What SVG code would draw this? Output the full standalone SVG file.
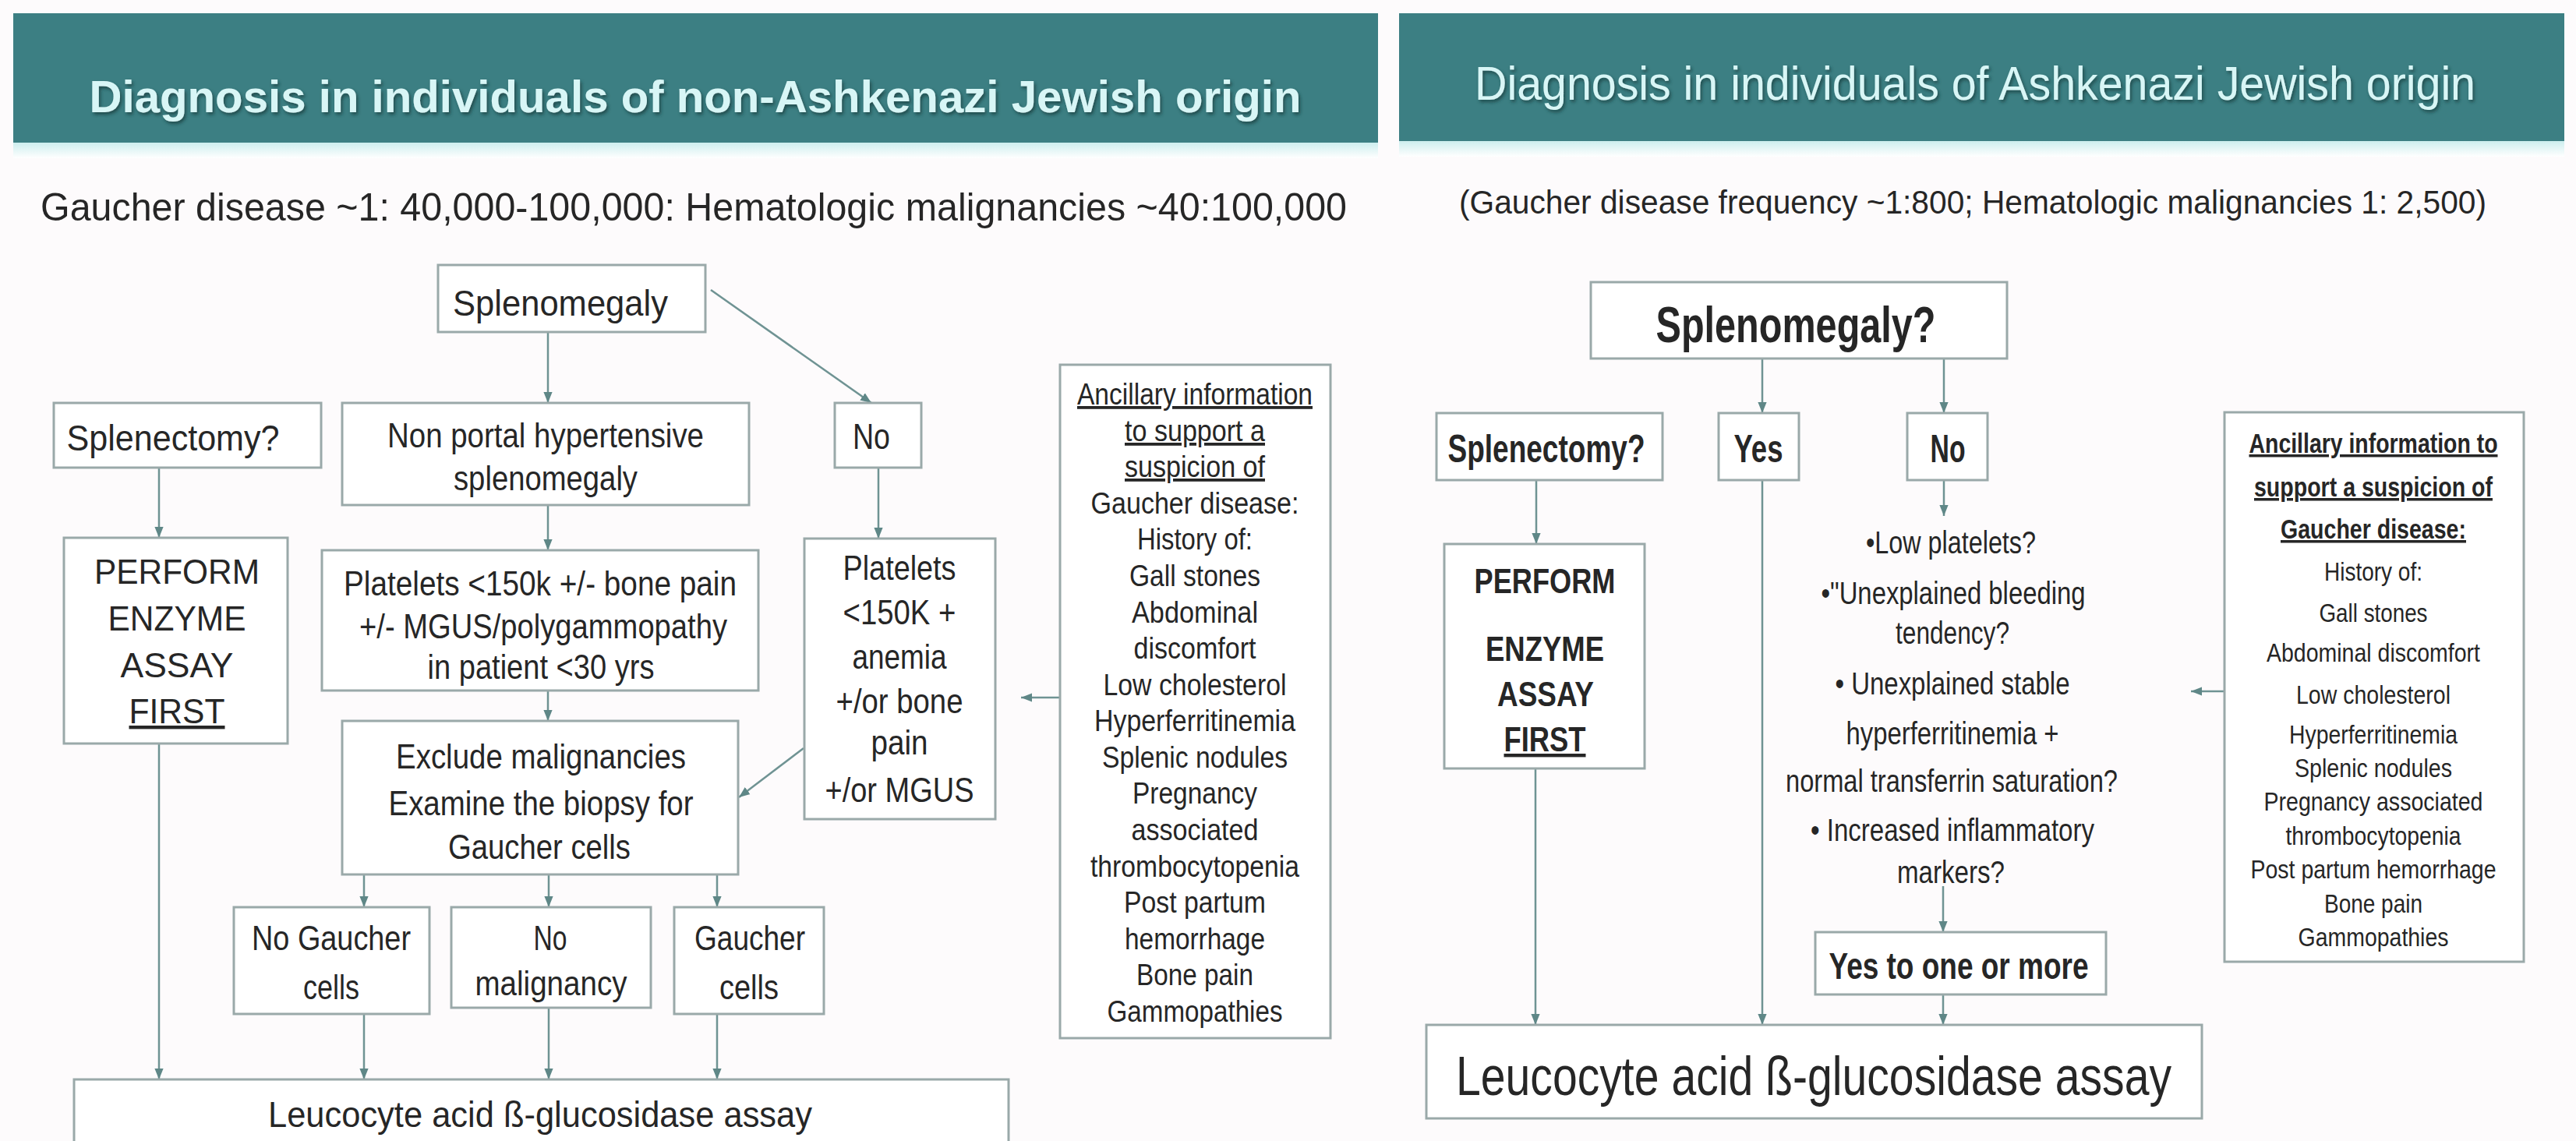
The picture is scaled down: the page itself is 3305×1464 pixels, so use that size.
<svg xmlns="http://www.w3.org/2000/svg" width="3305" height="1464" viewBox="0 0 3305 1464">
<style>
.t{font-family:"Liberation Sans Narrow","Liberation Sans",Arial,sans-serif;fill:#262626;text-anchor:middle}
.b{font-weight:bold}
.h{fill:#d8f6f6;font-weight:bold}
.box{fill:#ffffff;stroke:#9aa9a9;stroke-width:3}
.cn{stroke:#6f9393;stroke-width:2.5;fill:none}
.u{text-decoration:underline}
</style>
<defs>
<marker id="ah" viewBox="0 0 10 10" refX="10" refY="5" markerWidth="14" markerHeight="14" markerUnits="userSpaceOnUse" orient="auto">
<path d="M0,1 L10,5 L0,9 z" fill="#5f8787"/>
</marker>
<linearGradient id="band" x1="0" y1="0" x2="0" y2="1">
<stop offset="0" stop-color="#cdeeee"/>
<stop offset="1" stop-color="#ffffff"/>
</linearGradient>
<filter id="sh" filterUnits="userSpaceOnUse" x="0" y="0" width="3305" height="200">
<feDropShadow dx="2" dy="3" stdDeviation="2" flood-color="#1d3c3e" flood-opacity="0.8"/>
</filter>
</defs>
<rect x="0" y="0" width="3305" height="1464" fill="#fdfbfc"/>

<g id="header-left">
<rect x="17" y="17" width="1751" height="166" fill="#3c7f83"/>
<rect x="17" y="183" width="1751" height="20" fill="url(#band)"/>
<text class="t h" x="892" y="144" font-size="58" textLength="1555" lengthAdjust="spacingAndGlyphs" filter="url(#sh)">Diagnosis in individuals of non-Ashkenazi Jewish origin</text>
</g>
<g id="header-right">
<rect x="1795" y="17" width="1495" height="164" fill="#3c7f83"/>
<rect x="1795" y="181" width="1495" height="20" fill="url(#band)"/>
<text class="t" x="2534" y="128" font-size="62" style="fill:#d8f6f6" textLength="1284" lengthAdjust="spacingAndGlyphs" filter="url(#sh)">Diagnosis in individuals of Ashkenazi Jewish origin</text>
</g>
<g id="subtitle-left">
<text class="t" x="890" y="283" font-size="50" textLength="1676" lengthAdjust="spacingAndGlyphs">Gaucher disease ~1: 40,000-100,000: Hematologic malignancies ~40:100,000</text>
</g>
<g id="subtitle-right">
<text class="t" x="2531" y="274" font-size="43" textLength="1318" lengthAdjust="spacingAndGlyphs">(Gaucher disease frequency ~1:800; Hematologic malignancies 1: 2,500)</text>
</g>

<g id="connectors">
<line class="cn" x1="703" y1="426" x2="703" y2="517" marker-end="url(#ah)"/>
<line class="cn" x1="912" y1="372" x2="1118" y2="517" marker-end="url(#ah)"/>
<line class="cn" x1="204" y1="600" x2="204" y2="690" marker-end="url(#ah)"/>
<line class="cn" x1="703" y1="648" x2="703" y2="706" marker-end="url(#ah)"/>
<line class="cn" x1="1127" y1="600" x2="1127" y2="691" marker-end="url(#ah)"/>
<line class="cn" x1="703" y1="886" x2="703" y2="925" marker-end="url(#ah)"/>
<line class="cn" x1="1031" y1="960" x2="948" y2="1023" marker-end="url(#ah)"/>
<line class="cn" x1="1360" y1="895" x2="1310" y2="895" marker-end="url(#ah)"/>
<line class="cn" x1="467" y1="1122" x2="467" y2="1164" marker-end="url(#ah)"/>
<line class="cn" x1="704" y1="1122" x2="704" y2="1164" marker-end="url(#ah)"/>
<line class="cn" x1="920" y1="1122" x2="920" y2="1164" marker-end="url(#ah)"/>
<line class="cn" x1="204" y1="954" x2="204" y2="1385" marker-end="url(#ah)"/>
<line class="cn" x1="467" y1="1301" x2="467" y2="1385" marker-end="url(#ah)"/>
<line class="cn" x1="704" y1="1293" x2="704" y2="1385" marker-end="url(#ah)"/>
<line class="cn" x1="920" y1="1301" x2="920" y2="1385" marker-end="url(#ah)"/>

<line class="cn" x1="2261" y1="460" x2="2261" y2="530" marker-end="url(#ah)"/>
<line class="cn" x1="2494" y1="460" x2="2494" y2="530" marker-end="url(#ah)"/>
<line class="cn" x1="1971" y1="616" x2="1971" y2="698" marker-end="url(#ah)"/>
<line class="cn" x1="2494" y1="616" x2="2494" y2="662" marker-end="url(#ah)"/>
<line class="cn" x1="1970" y1="986" x2="1970" y2="1315" marker-end="url(#ah)"/>
<line class="cn" x1="2261" y1="616" x2="2261" y2="1315" marker-end="url(#ah)"/>
<line class="cn" x1="2493" y1="1137" x2="2493" y2="1196" marker-end="url(#ah)"/>
<line class="cn" x1="2493" y1="1276" x2="2493" y2="1315" marker-end="url(#ah)"/>
<line class="cn" x1="2854" y1="887" x2="2811" y2="887" marker-end="url(#ah)"/>
</g>

<g id="L-splenomegaly">
<rect class="box" x="562" y="340" width="343" height="86"/>
<text class="t" x="719" y="405" font-size="46" textLength="276" lengthAdjust="spacingAndGlyphs">Splenomegaly</text>
</g>
<g id="L-splenectomy">
<rect class="box" x="69" y="517" width="343" height="83"/>
<text class="t" x="222" y="578" font-size="46" textLength="273" lengthAdjust="spacingAndGlyphs">Splenectomy?</text>
</g>
<g id="L-nonportal">
<rect class="box" x="439" y="517" width="522" height="131"/>
<text class="t" x="700" y="574" font-size="44" textLength="406" lengthAdjust="spacingAndGlyphs">Non portal hypertensive</text>
<text class="t" x="700" y="629" font-size="44" textLength="236" lengthAdjust="spacingAndGlyphs">splenomegaly</text>
</g>
<g id="L-no">
<rect class="box" x="1071" y="517" width="111" height="83"/>
<text class="t" x="1118" y="576" font-size="46" textLength="48" lengthAdjust="spacingAndGlyphs">No</text>
</g>
<g id="L-perform">
<rect class="box" x="82" y="690" width="287" height="264"/>
<text class="t" x="227" y="749" font-size="44" textLength="212" lengthAdjust="spacingAndGlyphs">PERFORM</text>
<text class="t" x="227" y="809" font-size="44" textLength="177" lengthAdjust="spacingAndGlyphs">ENZYME</text>
<text class="t" x="227" y="869" font-size="44" textLength="145" lengthAdjust="spacingAndGlyphs">ASSAY</text>
<text class="t u" x="227" y="928" font-size="44" textLength="123" lengthAdjust="spacingAndGlyphs">FIRST</text>
</g>
<g id="L-platelets">
<rect class="box" x="413" y="706" width="560" height="180"/>
<text class="t" x="693" y="764" font-size="44" textLength="504" lengthAdjust="spacingAndGlyphs">Platelets &lt;150k +/- bone pain</text>
<text class="t" x="697" y="819" font-size="44" textLength="472" lengthAdjust="spacingAndGlyphs">+/- MGUS/polygammopathy</text>
<text class="t" x="694" y="871" font-size="44" textLength="291" lengthAdjust="spacingAndGlyphs">in patient &lt;30 yrs</text>
</g>
<g id="L-platelets-no">
<rect class="box" x="1032" y="691" width="245" height="360"/>
<text class="t" x="1154" y="744" font-size="44" textLength="145" lengthAdjust="spacingAndGlyphs">Platelets</text>
<text class="t" x="1154" y="801" font-size="44" textLength="145" lengthAdjust="spacingAndGlyphs">&lt;150K +</text>
<text class="t" x="1154" y="858" font-size="44" textLength="121" lengthAdjust="spacingAndGlyphs">anemia</text>
<text class="t" x="1154" y="915" font-size="44" textLength="163" lengthAdjust="spacingAndGlyphs">+/or bone</text>
<text class="t" x="1154" y="968" font-size="44" textLength="73" lengthAdjust="spacingAndGlyphs">pain</text>
<text class="t" x="1154" y="1029" font-size="44" textLength="191" lengthAdjust="spacingAndGlyphs">+/or MGUS</text>
</g>
<g id="L-exclude">
<rect class="box" x="439" y="925" width="508" height="197"/>
<text class="t" x="694" y="986" font-size="44" textLength="372" lengthAdjust="spacingAndGlyphs">Exclude malignancies</text>
<text class="t" x="694" y="1046" font-size="44" textLength="391" lengthAdjust="spacingAndGlyphs">Examine the biopsy for</text>
<text class="t" x="692" y="1102" font-size="44" textLength="234" lengthAdjust="spacingAndGlyphs">Gaucher cells</text>
</g>
<g id="L-nogaucher">
<rect class="box" x="300" y="1164" width="251" height="137"/>
<text class="t" x="425" y="1219" font-size="44" textLength="204" lengthAdjust="spacingAndGlyphs">No Gaucher</text>
<text class="t" x="425" y="1282" font-size="44" textLength="72" lengthAdjust="spacingAndGlyphs">cells</text>
</g>
<g id="L-nomalignancy">
<rect class="box" x="579" y="1164" width="256" height="129"/>
<text class="t" x="706" y="1219" font-size="44" textLength="43" lengthAdjust="spacingAndGlyphs">No</text>
<text class="t" x="707" y="1277" font-size="44" textLength="195" lengthAdjust="spacingAndGlyphs">malignancy</text>
</g>
<g id="L-gauchercells">
<rect class="box" x="865" y="1164" width="192" height="137"/>
<text class="t" x="962" y="1219" font-size="44" textLength="142" lengthAdjust="spacingAndGlyphs">Gaucher</text>
<text class="t" x="961" y="1282" font-size="44" textLength="76" lengthAdjust="spacingAndGlyphs">cells</text>
</g>
<g id="L-ancillary">
<rect class="box" x="1360" y="468" width="347" height="864"/>
<text class="t u" x="1533" y="519" font-size="38" textLength="302" lengthAdjust="spacingAndGlyphs">Ancillary information</text>
<text class="t u" x="1533" y="566" font-size="38" textLength="180" lengthAdjust="spacingAndGlyphs">to support a</text>
<text class="t u" x="1533" y="612" font-size="38" textLength="180" lengthAdjust="spacingAndGlyphs">suspicion of</text>
<text class="t" x="1533" y="659" font-size="38" textLength="267" lengthAdjust="spacingAndGlyphs">Gaucher disease:</text>
<text class="t" x="1533" y="705" font-size="38" textLength="148" lengthAdjust="spacingAndGlyphs">History of:</text>
<text class="t" x="1533" y="752" font-size="38" textLength="168" lengthAdjust="spacingAndGlyphs">Gall stones</text>
<text class="t" x="1533" y="799" font-size="38" textLength="162" lengthAdjust="spacingAndGlyphs">Abdominal</text>
<text class="t" x="1533" y="845" font-size="38" textLength="157" lengthAdjust="spacingAndGlyphs">discomfort</text>
<text class="t" x="1533" y="892" font-size="38" textLength="235" lengthAdjust="spacingAndGlyphs">Low cholesterol</text>
<text class="t" x="1533" y="938" font-size="38" textLength="258" lengthAdjust="spacingAndGlyphs">Hyperferritinemia</text>
<text class="t" x="1533" y="985" font-size="38" textLength="238" lengthAdjust="spacingAndGlyphs">Splenic nodules</text>
<text class="t" x="1533" y="1031" font-size="38" textLength="160" lengthAdjust="spacingAndGlyphs">Pregnancy</text>
<text class="t" x="1533" y="1078" font-size="38" textLength="163" lengthAdjust="spacingAndGlyphs">associated</text>
<text class="t" x="1533" y="1125" font-size="38" textLength="268" lengthAdjust="spacingAndGlyphs">thrombocytopenia</text>
<text class="t" x="1533" y="1171" font-size="38" textLength="182" lengthAdjust="spacingAndGlyphs">Post partum</text>
<text class="t" x="1533" y="1218" font-size="38" textLength="180" lengthAdjust="spacingAndGlyphs">hemorrhage</text>
<text class="t" x="1533" y="1264" font-size="38" textLength="150" lengthAdjust="spacingAndGlyphs">Bone pain</text>
<text class="t" x="1533" y="1311" font-size="38" textLength="225" lengthAdjust="spacingAndGlyphs">Gammopathies</text>
</g>
<g id="L-leucocyte">
<rect class="box" x="95" y="1385" width="1199" height="90"/>
<text class="t" x="693" y="1446" font-size="46" textLength="698" lengthAdjust="spacingAndGlyphs">Leucocyte acid ß-glucosidase assay</text>
</g>

<g id="R-splenomegaly">
<rect class="box" x="2041" y="362" width="534" height="98"/>
<text class="t b" x="2304" y="439" font-size="64" textLength="359" lengthAdjust="spacingAndGlyphs">Splenomegaly?</text>
</g>
<g id="R-splenectomy">
<rect class="box" x="1843" y="530" width="290" height="86"/>
<text class="t b" x="1984" y="593" font-size="50" textLength="253" lengthAdjust="spacingAndGlyphs">Splenectomy?</text>
</g>
<g id="R-yes">
<rect class="box" x="2205" y="530" width="103" height="86"/>
<text class="t b" x="2256" y="593" font-size="50" textLength="63" lengthAdjust="spacingAndGlyphs">Yes</text>
</g>
<g id="R-no">
<rect class="box" x="2447" y="530" width="103" height="86"/>
<text class="t b" x="2499" y="593" font-size="50" textLength="45" lengthAdjust="spacingAndGlyphs">No</text>
</g>
<g id="R-perform">
<rect class="box" x="1853" y="698" width="257" height="288"/>
<text class="t b" x="1982" y="761" font-size="44" textLength="181" lengthAdjust="spacingAndGlyphs">PERFORM</text>
<text class="t b" x="1982" y="848" font-size="44" textLength="152" lengthAdjust="spacingAndGlyphs">ENZYME</text>
<text class="t b" x="1983" y="906" font-size="44" textLength="124" lengthAdjust="spacingAndGlyphs">ASSAY</text>
<text class="t b u" x="1982" y="964" font-size="44" textLength="105" lengthAdjust="spacingAndGlyphs">FIRST</text>
</g>
<g id="R-questions">
<text class="t" x="2503" y="710" font-size="40" textLength="218" lengthAdjust="spacingAndGlyphs">•Low platelets?</text>
<text class="t" x="2506" y="775" font-size="40" textLength="339" lengthAdjust="spacingAndGlyphs">•"Unexplained bleeding</text>
<text class="t" x="2505" y="826" font-size="40" textLength="146" lengthAdjust="spacingAndGlyphs">tendency?</text>
<text class="t" x="2505" y="891" font-size="40" textLength="301" lengthAdjust="spacingAndGlyphs">• Unexplained stable</text>
<text class="t" x="2505" y="955" font-size="40" textLength="273" lengthAdjust="spacingAndGlyphs">hyperferritinemia +</text>
<text class="t" x="2504" y="1016" font-size="40" textLength="426" lengthAdjust="spacingAndGlyphs">normal transferrin saturation?</text>
<text class="t" x="2505" y="1079" font-size="40" textLength="364" lengthAdjust="spacingAndGlyphs">• Increased inflammatory</text>
<text class="t" x="2503" y="1133" font-size="40" textLength="138" lengthAdjust="spacingAndGlyphs">markers?</text>
</g>
<g id="R-yesto">
<rect class="box" x="2329" y="1196" width="373" height="80"/>
<text class="t b" x="2513" y="1256" font-size="48" textLength="333" lengthAdjust="spacingAndGlyphs">Yes to one or more</text>
</g>
<g id="R-ancillary">
<rect class="box" x="2854" y="529" width="384" height="705"/>
<text class="t b u" x="3045" y="581" font-size="35" textLength="319" lengthAdjust="spacingAndGlyphs">Ancillary information to</text>
<text class="t b u" x="3045" y="637" font-size="35" textLength="306" lengthAdjust="spacingAndGlyphs">support a suspicion of</text>
<text class="t b u" x="3045" y="691" font-size="35" textLength="238" lengthAdjust="spacingAndGlyphs">Gaucher disease:</text>
<text class="t" x="3045" y="745" font-size="34" textLength="126" lengthAdjust="spacingAndGlyphs">History of:</text>
<text class="t" x="3045" y="798" font-size="34" textLength="139" lengthAdjust="spacingAndGlyphs">Gall stones</text>
<text class="t" x="3045" y="849" font-size="34" textLength="274" lengthAdjust="spacingAndGlyphs">Abdominal discomfort</text>
<text class="t" x="3045" y="903" font-size="34" textLength="198" lengthAdjust="spacingAndGlyphs">Low cholesterol</text>
<text class="t" x="3045" y="954" font-size="34" textLength="216" lengthAdjust="spacingAndGlyphs">Hyperferritinemia</text>
<text class="t" x="3045" y="997" font-size="34" textLength="202" lengthAdjust="spacingAndGlyphs">Splenic nodules</text>
<text class="t" x="3045" y="1040" font-size="34" textLength="281" lengthAdjust="spacingAndGlyphs">Pregnancy associated</text>
<text class="t" x="3045" y="1084" font-size="34" textLength="225" lengthAdjust="spacingAndGlyphs">thrombocytopenia</text>
<text class="t" x="3045" y="1127" font-size="34" textLength="315" lengthAdjust="spacingAndGlyphs">Post partum hemorrhage</text>
<text class="t" x="3045" y="1171" font-size="34" textLength="126" lengthAdjust="spacingAndGlyphs">Bone pain</text>
<text class="t" x="3045" y="1214" font-size="34" textLength="193" lengthAdjust="spacingAndGlyphs">Gammopathies</text>
</g>
<g id="R-leucocyte">
<rect class="box" x="1830" y="1315" width="995" height="120"/>
<text class="t" x="2327" y="1405" font-size="70" textLength="918" lengthAdjust="spacingAndGlyphs">Leucocyte acid ß-glucosidase assay</text>
</g>
</svg>
